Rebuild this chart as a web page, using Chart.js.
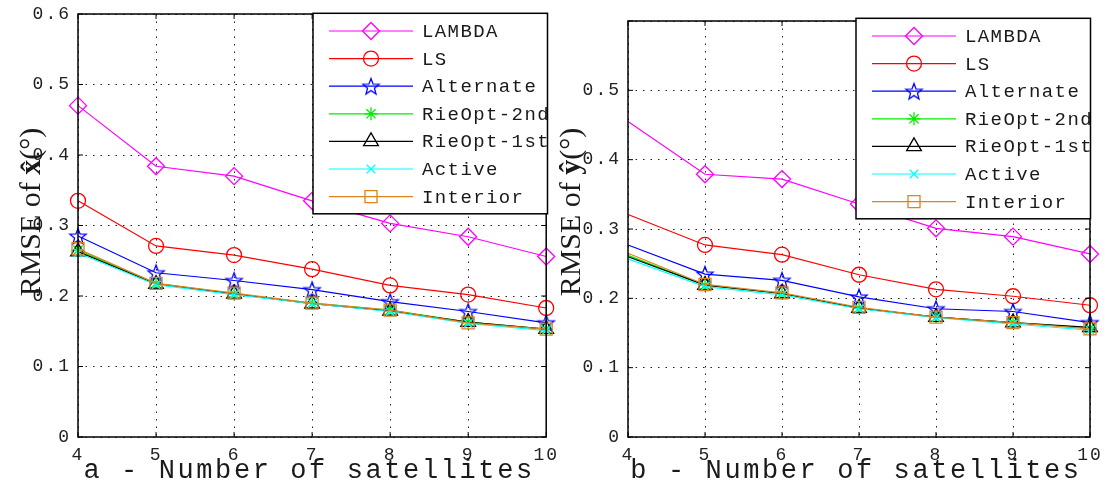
<!DOCTYPE html>
<html>
<head>
<meta charset="utf-8">
<script src="https://cdn.jsdelivr.net/npm/chart.js@4.4.1/dist/chart.umd.min.js"></script>
<style>
  html,body{margin:0;padding:0;background:#fff;}
  body{width:1111px;height:486px;position:relative;overflow:hidden;}
  .panel{position:absolute;top:0;height:486px;}
  #panelA{left:0;width:556px;}
  #panelB{left:556px;width:555px;}
</style>
</head>
<body>
<div class="panel" id="panelA"><canvas id="chartX"></canvas></div>
<div class="panel" id="panelB"><canvas id="chartY"></canvas></div>
<script>
/* ==========================================
   DATA
========================================== */
const satellites = [4,5,6,7,8,9,10];

const methodNames = [
  "LAMBDA","LS","Alternate","RieOpt-2nd",
  "RieOpt-1st","Active","Interior"
];

// RMSE of x-hat (deg)
const lambdaX   = [0.470,0.384,0.370,0.335,0.303,0.284,0.256];
const lsX       = [0.335,0.271,0.258,0.238,0.215,0.202,0.183];
const alternateX= [0.285,0.233,0.222,0.209,0.192,0.178,0.162];
const rie2ndX   = [0.265,0.218,0.203,0.190,0.180,0.163,0.153];
const rie1stX   = [0.263,0.217,0.203,0.189,0.179,0.163,0.153];
const activeX   = [0.261,0.216,0.202,0.189,0.178,0.161,0.151];
const interiorX = [0.267,0.218,0.204,0.190,0.180,0.162,0.153];

// RMSE of y-hat (deg)
const lambdaY   = [0.455,0.379,0.372,0.336,0.301,0.289,0.264];
const lsY       = [0.321,0.277,0.263,0.234,0.213,0.203,0.190];
const alternateY= [0.277,0.235,0.226,0.202,0.185,0.181,0.165];
const rie2ndY   = [0.262,0.219,0.207,0.186,0.173,0.165,0.157];
const rie1stY   = [0.260,0.219,0.207,0.186,0.173,0.165,0.158];
const activeY   = [0.257,0.217,0.205,0.185,0.172,0.163,0.154];
const interiorY = [0.265,0.220,0.208,0.187,0.173,0.165,0.156];

/* ==========================================
   STYLE
========================================== */
const MONO = "'Liberation Mono','Courier New',monospace";
const SERIF = "'Liberation Serif','Times New Roman',serif";

const methodColors = [
  "#ff00ff","#ff0000","#0000ff","#00ee00",
  "#000000","#00ffff","#e0821e"
];

function makeStarMarker(color){

  const c = document.createElement("canvas");
  c.width = 20;
  c.height = 20;
  const g = c.getContext("2d");
  g.strokeStyle = color;
  g.lineWidth = 1.3;
  g.beginPath();

  for(let i=0;i<10;i++){
    const r = i%2===0 ? 8.5 : 3.6;
    const a = -Math.PI/2 + i*Math.PI/5;
    const px = 10 + r*Math.cos(a);
    const py = 10.8 + r*Math.sin(a);
    if(i===0) g.moveTo(px,py); else g.lineTo(px,py);
  }

  g.closePath();
  g.stroke();
  return c;

}

const markerStyles = [
  "rectRot","circle",makeStarMarker("#0000ff"),"star",
  "triangle","crossRot","rect"
];
const markerRadius = [8.5,7.5,8,6.5,8.5,6,8.5];

/* ==========================================
   FRAME, LEGEND AND TITLES
========================================== */
function drawFrame(chart){

  const {ctx, chartArea:a, scales} = chart;

  ctx.save();
  ctx.strokeStyle = "#000";
  ctx.lineWidth = 1.5;
  ctx.strokeRect(a.left,a.top,a.right-a.left,a.bottom-a.top);

  ctx.lineWidth = 1;
  ctx.beginPath();
  scales.x.ticks.forEach(t=>{
    const px = scales.x.getPixelForValue(t.value);
    ctx.moveTo(px,a.bottom); ctx.lineTo(px,a.bottom-5);
    ctx.moveTo(px,a.top);    ctx.lineTo(px,a.top+5);
  });
  scales.y.ticks.forEach(t=>{
    const py = scales.y.getPixelForValue(t.value);
    ctx.moveTo(a.left,py);  ctx.lineTo(a.left+5,py);
    ctx.moveTo(a.right,py); ctx.lineTo(a.right-5,py);
  });
  ctx.stroke();
  ctx.restore();

}

function drawLegendBox(chart,o){

  const ctx = chart.ctx;
  const L = o.legendLeft, T = o.legendTop;
  const W = 234.5, H = 200.5;

  ctx.save();
  ctx.fillStyle = "#fff";
  ctx.fillRect(L,T,W,H);
  ctx.strokeStyle = "#000";
  ctx.lineWidth = 1.5;
  ctx.strokeRect(L,T,W,H);

  chart.data.datasets.forEach((ds,i)=>{

    const cy = T + 17.7 + i*27.6;

    ctx.strokeStyle = ds.borderColor;
    ctx.lineWidth = 1.2;
    ctx.beginPath();
    ctx.moveTo(L+16,cy);
    ctx.lineTo(L+100,cy);
    ctx.stroke();

    ctx.lineWidth = 1.3;
    ctx.fillStyle = "rgba(0,0,0,0)";
    Chart.helpers.drawPoint(
      ctx,
      {pointStyle:ds.pointStyle, radius:markerRadius[i], rotation:0, borderWidth:1.3},
      L+58, cy
    );

    ctx.fillStyle = "#1a1a1a";
    ctx.font = "19px " + MONO;
    ctx.letterSpacing = "1.4px";
    ctx.textAlign = "left";
    ctx.textBaseline = "middle";
    ctx.fillText(ds.label, L+109, cy+1);

  });

  ctx.restore();

}

function drawAxisTitles(chart,o){

  const {ctx, chartArea:a} = chart;

  ctx.save();
  ctx.fillStyle = "#1a1a1a";
  ctx.font = "27px " + MONO;
  ctx.letterSpacing = "2.6px";
  ctx.textAlign = "center";
  ctx.textBaseline = "alphabetic";
  ctx.fillText(o.xTitle, (a.left+a.right)/2 - 3, 478);
  ctx.restore();

  // rotated y title with a bold hatted symbol
  const parts = [
    {text:"RMSE of ", font:"30px " + SERIF},
    {text:o.ySymbol + "\u0302", font:"bold 30px " + SERIF},
    {text:"(\u00b0)", font:"30px " + SERIF}
  ];

  ctx.save();
  ctx.letterSpacing = "0px";
  ctx.fillStyle = "#1a1a1a";
  ctx.textAlign = "left";
  ctx.textBaseline = "alphabetic";
  ctx.translate(o.yTitleX, 212);
  ctx.rotate(-Math.PI/2);

  let total = 0;
  parts.forEach(p=>{
    ctx.font = p.font;
    p.w = ctx.measureText(p.text).width;
    total += p.w;
  });

  let x = -total/2;
  parts.forEach(p=>{
    ctx.font = p.font;
    ctx.fillText(p.text, x, 0);
    x += p.w;
  });
  ctx.restore();

}

const panelDecor = {
  id:"panelDecor",
  beforeDraw(chart){
    chart.ctx.letterSpacing = "2px";
  },
  afterDatasetsDraw(chart){
    drawFrame(chart);
  },
  afterDraw(chart,args,opts){
    drawLegendBox(chart,opts);
    drawAxisTitles(chart,opts);
  }
};

/* ==========================================
   CHARTS
========================================== */
function buildDatasets(series,hideFirst){

  return series.map((values,i)=>({
    label:methodNames[i],
    data:satellites.map((s,k)=>({x:s, y:values[k]})),
    borderColor:methodColors[i],
    backgroundColor:"transparent",
    borderWidth:1.2,
    pointStyle:markerStyles[i],
    pointRadius:c => (hideFirst && c.dataIndex===0) ? 0 : markerRadius[i],
    pointHoverRadius:markerRadius[i],
    pointBorderWidth:1.3,
    pointBorderColor:methodColors[i],
    pointBackgroundColor:"transparent",
    tension:0,
    clip:false,
    order:series.length - i
  }));

}

function makeChart(canvasId,series,o){

  return new Chart(
    document.getElementById(canvasId),
    {
      type:"line",
      data:{
        datasets:buildDatasets(series,o.hideFirst)
      },
      options:{
        responsive:true,
        maintainAspectRatio:false,
        animation:false,
        events:[],
        layout:{
          padding:{top:o.padTop, right:o.padRight, left:0, bottom:0}
        },
        plugins:{
          legend:{display:false},
          tooltip:{enabled:false},
          panelDecor:o
        },
        scales:{
          x:{
            type:"linear",
            min:4,
            max:10,
            afterFit:s=>{ s.height = 49; s.paddingLeft = 0; s.paddingRight = 0; },
            ticks:{
              stepSize:1,
              autoSkip:false,
              maxRotation:0,
              padding:7,
              color:"#222",
              font:{family:MONO, size:18}
            },
            grid:{color:"#222", lineWidth:1, drawTicks:false, tickLength:0},
            border:{display:false, dash:[1.5,6]}
          },
          y:{
            min:0,
            max:0.6,
            afterFit:s=>{ s.width = o.axisWidth; s.paddingTop = 0; s.paddingBottom = 0; },
            ticks:{
              stepSize:0.1,
              padding:7,
              color:"#222",
              font:{family:MONO, size:18},
              callback:v=>{
                if(o.hideTop && v > 0.55) return "";
                return Math.abs(v) < 1e-9 ? "0" : v.toFixed(1);
              }
            },
            grid:{color:"#222", lineWidth:1, drawTicks:false, tickLength:0},
            border:{display:false, dash:[1.5,6]}
          }
        }
      },
      plugins:[panelDecor]
    }
  );

}

makeChart(
  "chartX",
  [lambdaX,lsX,alternateX,rie2ndX,rie1stX,activeX,interiorX],
  {
    padTop:14, padRight:9, axisWidth:78,
    hideFirst:false, hideTop:false,
    legendLeft:313, legendTop:13.3,
    xTitle:"a - Number of satellites",
    ySymbol:"x", yTitleX:40
  }
);

makeChart(
  "chartY",
  [lambdaY,lsY,alternateY,rie2ndY,rie1stY,activeY,interiorY],
  {
    padTop:21, padRight:21, axisWidth:72,
    hideFirst:true, hideTop:true,
    legendLeft:300, legendTop:18.3,
    xTitle:"b - Number of satellites",
    ySymbol:"y", yTitleX:24
  }
);
</script>
</body>
</html>
